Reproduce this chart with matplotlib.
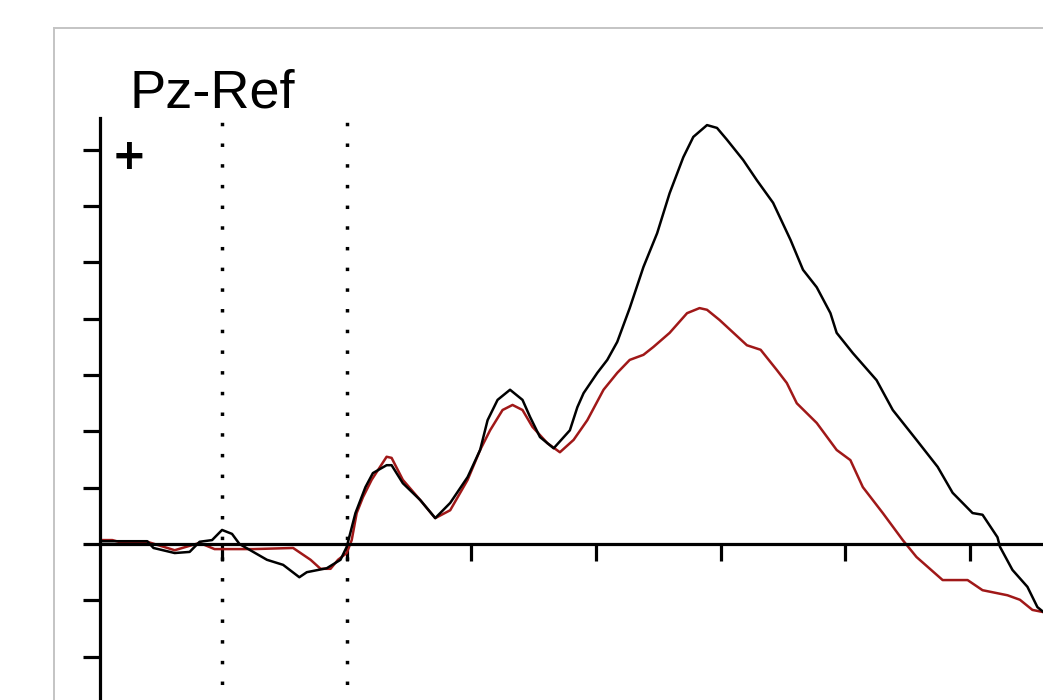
import matplotlib
matplotlib.use("Agg")
import matplotlib.pyplot as plt
from matplotlib.lines import Line2D

# ---- data (time in ms, amplitude in µV) ----
black_t = [-198, -183, -160, -155, -138, -126, -118, -108, -100, -92, -86, -75, -64, -51,
           -38, -32, -16, -5, 0, 7, 15, 21, 32, 36, 45, 59, 71, 83, 97, 107, 113, 121,
           131, 141, 147, 155, 166, 179, 185, 190, 201, 209, 217, 227, 238, 249, 259,
           270, 278, 289, 297, 305, 318, 329, 342, 356, 366, 377, 388, 393, 406, 425,
           438, 457, 474, 486, 502, 510, 522, 524, 534, 546, 554, 559]
black_v = [0.05, 0.05, 0.05, -0.07, -0.16, -0.14, 0.04, 0.07, 0.25, 0.18, 0.0, -0.14,
           -0.28, -0.37, -0.59, -0.50, -0.43, -0.28, -0.05, 0.55, 1.01, 1.26, 1.40, 1.40,
           1.08, 0.78, 0.46, 0.73, 1.19, 1.67, 2.20, 2.56, 2.74, 2.56, 2.26, 1.90, 1.70,
           2.02, 2.43, 2.68, 3.04, 3.27, 3.59, 4.19, 4.92, 5.52, 6.23, 6.87, 7.23, 7.44,
           7.39, 7.18, 6.82, 6.46, 6.06, 5.40, 4.87, 4.56, 4.10, 3.75, 3.39, 2.91, 2.38,
           1.85, 1.37, 0.91, 0.55, 0.52, 0.12, -0.05, -0.46, -0.76, -1.12, -1.21]

red_t = [-198, -188, -183, -160, -138, -118, -106, -75, -43, -29, -21, -13, -7, 0, 4, 8,
         13, 20, 32, 36, 45, 59, 71, 83, 97, 107, 115, 125, 133, 141, 149, 161, 171, 182,
         193, 206, 217, 227, 238, 246, 259, 273, 283, 289, 299, 321, 332, 345, 353, 361,
         377, 393, 404, 414, 430, 446, 457, 478, 498, 510, 530, 540, 550, 559]
red_v = [0.07, 0.07, 0.04, 0.04, -0.11, 0.02, -0.09, -0.09, -0.07, -0.28, -0.44, -0.44,
         -0.28, -0.16, 0.07, 0.55, 0.83, 1.14, 1.55, 1.53, 1.14, 0.78, 0.46, 0.60, 1.14,
         1.67, 2.02, 2.38, 2.47, 2.38, 2.08, 1.79, 1.63, 1.85, 2.20, 2.74, 3.04, 3.27,
         3.36, 3.50, 3.75, 4.10, 4.19, 4.16, 3.98, 3.53, 3.45, 3.09, 2.86, 2.50, 2.15,
         1.67, 1.49, 1.01, 0.55, 0.07, -0.23, -0.64, -0.64, -0.82, -0.91, -0.99, -1.17,
         -1.21]

x_ticks = [-100, 0, 100, 200, 300, 400, 500]
y_ticks = [-2, -1, 0, 1, 2, 3, 4, 5, 6, 7]
markers_t = [-100, 0]
title = "Pz-Ref"

W, H = 1043, 700
fig = plt.figure(figsize=(W / 100, H / 100), dpi=100)
fig.patch.set_facecolor("white")

# light gray frame (left and top edges)
fig.add_artist(Line2D([54 / W, 54 / W], [-0.05, 1 - 28 / H], transform=fig.transFigure,
                      color="#c4c4c4", lw=1.4))
fig.add_artist(Line2D([54 / W, 1.05], [1 - 28 / H, 1 - 28 / H], transform=fig.transFigure,
                      color="#c4c4c4", lw=1.4))

ax = fig.add_axes([100 / W, 0.0, (W - 100) / W, (H - 118) / H])
ax.set_facecolor("none")
ax.set_xlim(-197.9, 558.5)
ax.set_ylim(-2.77, 7.566)

ax.plot(red_t, red_v, color="#a01818", lw=1.8, zorder=2)
ax.plot(black_t, black_v, color="black", lw=1.8, zorder=2.1)

for m in markers_t:
    ax.axvline(m, color="black", lw=2.5, linestyle=(1.5, (1, 4.96)), zorder=1.5)

for s in ("top", "right"):
    ax.spines[s].set_visible(False)
ax.spines["bottom"].set_position(("data", 0))
ax.spines["left"].set_linewidth(2.3)
ax.spines["bottom"].set_linewidth(2.3)
ax.set_xticks(x_ticks)
ax.set_yticks(y_ticks)
ax.tick_params(axis="both", direction="out", length=12, width=2.3, labelbottom=False,
               labelleft=False)

fig.text(129 / W, 1 - 107 / H, title, ha="left", va="baseline", fontsize=39,
         family="Liberation Sans")
fig.text(129.5 / W, 1 - 157 / H, "+", ha="center", va="center", fontsize=30,
         family="DejaVu Sans", weight="bold")

fig.savefig("out.png", dpi=100)
